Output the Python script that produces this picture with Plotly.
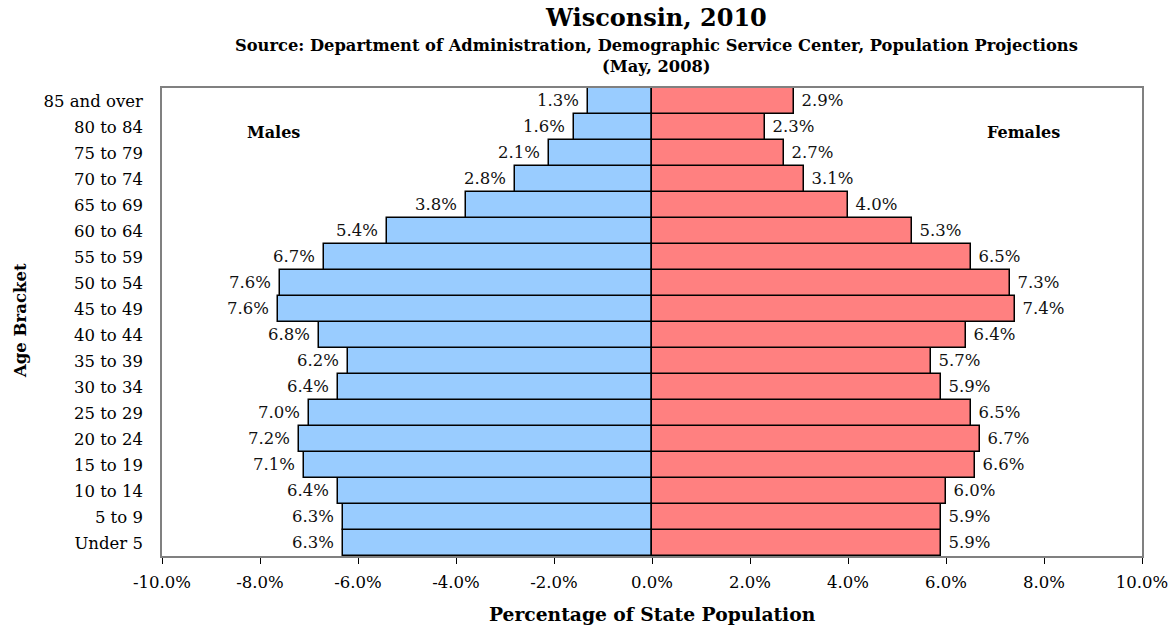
import plotly.graph_objects as go

age_groups = ["Under 5", "5 to 9", "10 to 14", "15 to 19", "20 to 24", "25 to 29",
              "30 to 34", "35 to 39", "40 to 44", "45 to 49", "50 to 54", "55 to 59",
              "60 to 64", "65 to 69", "70 to 74", "75 to 79", "80 to 84", "85 and over"]
males = [6.3, 6.3, 6.4, 7.1, 7.2, 7.0, 6.4, 6.2, 6.8, 7.64, 7.6, 6.7,
         5.4, 3.8, 2.8, 2.1, 1.6, 1.3]
females = [5.9, 5.9, 6.0, 6.6, 6.7, 6.5, 5.9, 5.7, 6.4, 7.4, 7.3, 6.5,
           5.3, 4.0, 3.1, 2.7, 2.3, 2.9]
x_ticks = [-10, -8, -6, -4, -2, 0, 2, 4, 6, 8, 10]

serif = "DejaVu Serif, Liberation Serif, serif"
fsize = 16.5

fig = go.Figure()
fig.add_trace(go.Bar(
    y=age_groups, x=[-v for v in males], orientation="h", name="Males",
    marker=dict(color="#99CCFF", line=dict(color="black", width=1.5)),
    text=[f"{v:.1f}% " for v in males], textposition="outside",
    textfont=dict(family=serif, size=fsize, color="#111"), cliponaxis=False,
))
fig.add_trace(go.Bar(
    y=age_groups, x=females, orientation="h", name="Females",
    marker=dict(color="#FF8080", line=dict(color="black", width=1.5)),
    text=[f" {v:.1f}%" for v in females], textposition="outside",
    textfont=dict(family=serif, size=fsize, color="#111"), cliponaxis=False,
))

W, H = 1172, 629
L, R, T, B = 162, 30, 88, 73
pw, ph = W - L - R, H - T - B

annotations = [
    dict(text="<b>Wisconsin, 2010</b>", x=656, y=17, font=dict(size=24)),
    dict(text="<b>Source: Department of Administration, Demographic Service Center, "
              "Population Projections</b>", x=656, y=45, font=dict(size=16.3)),
    dict(text="<b>(May, 2008)</b>", x=656, y=67, font=dict(size=16.3)),
    dict(text="<b>Percentage of State Population</b>", x=652, y=614, font=dict(size=18.7)),
    dict(text="<b>Age Bracket</b>", x=20, y=321, textangle=-90, font=dict(size=16.5)),
    dict(text="<b>Males</b>", x=273, y=132, font=dict(size=16)),
    dict(text="<b>Females</b>", x=1023, y=132, font=dict(size=16)),
]
for a in annotations:
    # pixel positions -> paper coordinates
    a["x"] = (a["x"] - L) / pw
    a["y"] = (H - B - a["y"]) / ph
    a.update(xref="paper", yref="paper", showarrow=False,
             xanchor="center", yanchor="middle")
    a["font"].update(family=serif, color="black")

fig.update_layout(
    width=W, height=H,
    barmode="relative", bargap=0,
    showlegend=False,
    plot_bgcolor="white", paper_bgcolor="white",
    margin=dict(l=L, r=R, t=T, b=B, autoexpand=False),
    font=dict(family=serif, size=fsize, color="black"),
    xaxis=dict(
        range=[-10, 10], tickvals=x_ticks,
        ticktext=[f"{v:.1f}%" for v in x_ticks],
        ticks="outside", ticklen=6, tickcolor="black", tickwidth=1,
        ticklabelstandoff=4,
        showgrid=False, zeroline=False, automargin=False,
        showline=True, linecolor="#808080", linewidth=1.5, mirror=True,
    ),
    yaxis=dict(
        showgrid=False, zeroline=False, ticks="", automargin=False,
        ticklabelstandoff=14,
        showline=True, linecolor="#808080", linewidth=1.5, mirror=True,
    ),
    annotations=annotations,
)

# drop the default page margin so the figure fills the window exactly
fig.write_html("out.html", config={"displayModeBar": False},
               post_script="document.body.style.margin='0';document.body.style.overflow='hidden';")
